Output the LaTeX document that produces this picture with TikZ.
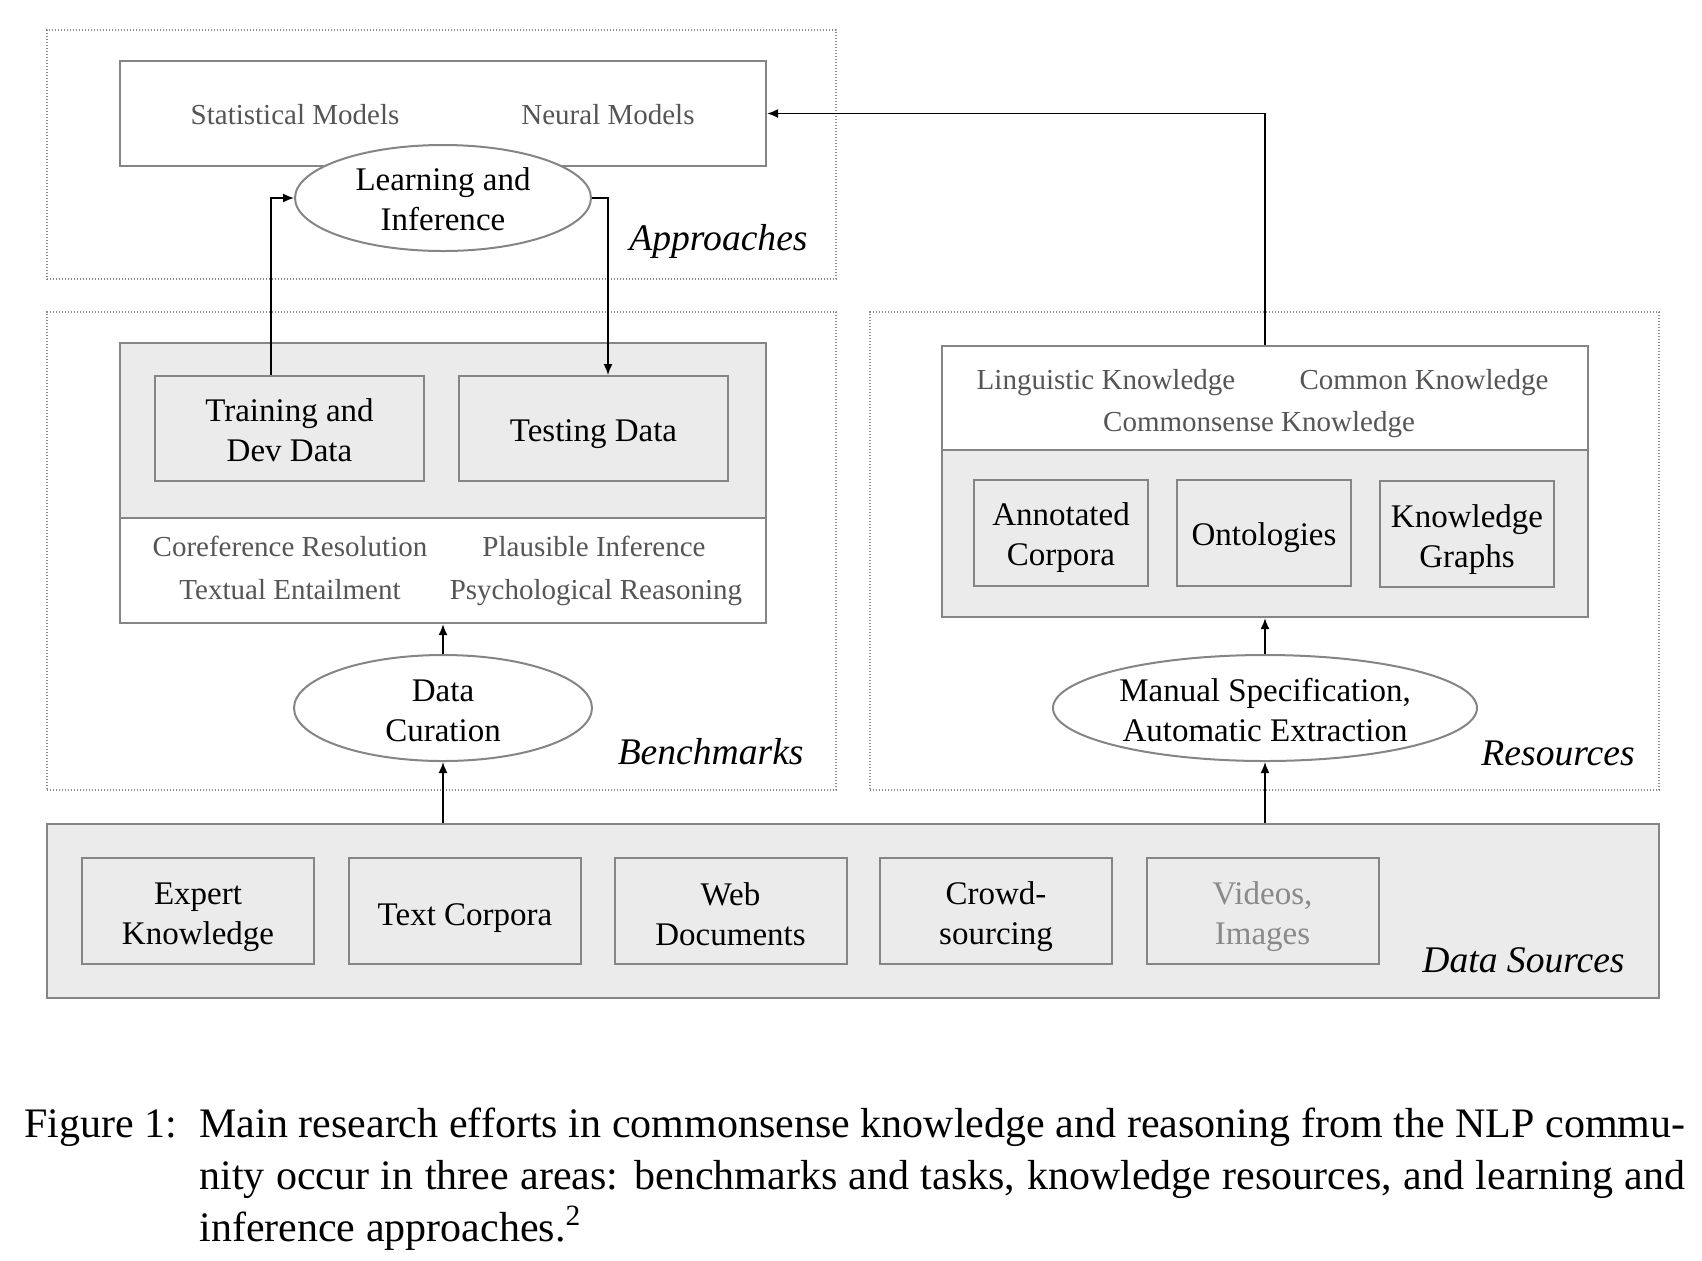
\documentclass[tikz,border=0pt]{standalone}
\usepackage{fontspec}
\setmainfont{Liberation Serif}
\usetikzlibrary{shapes.geometric,arrows.meta}
\definecolor{boxgray}{HTML}{858585}
\definecolor{fillgray}{HTML}{EBEBEB}
\definecolor{txtgray}{HTML}{555555}
\definecolor{ltgray}{HTML}{8A8A8A}
\definecolor{dotgray}{HTML}{8C8C8C}
\tikzset{
  container/.style={draw=dotgray, line width=0.6pt, dash pattern=on 0.6pt off 0.9pt, inner sep=0, rectangle},
  panel/.style={draw=boxgray, line width=1.1pt, inner sep=0, rectangle},
  graypanel/.style={panel, fill=fillgray},
  item/.style={draw=boxgray, line width=1pt, fill=fillgray, inner sep=0, rectangle},
  oval/.style={ellipse, draw=boxgray, line width=1pt, fill=white, inner sep=0},
  itext/.style={inner sep=0, align=center, font=\fontsize{16.5}{20}\selectfont},
  gtext/.style={text=txtgray, inner sep=0, text height=12pt, text depth=1.6pt, font=\fontsize{14.5}{17}\selectfont},
  area/.style={anchor=east, inner sep=0, font=\fontsize{18.8}{22}\selectfont\itshape},
  arr/.style={-{Latex[length=5.5pt,width=4.5pt]}, line width=0.8pt, black},
  captext/.style={anchor=base west, inner sep=0, font=\fontsize{21}{26}\selectfont}
}
\begin{document}
\begin{tikzpicture}[x=0.5pt,y=-0.5pt]
\useasboundingbox (0,0) rectangle (1702,1260);
% containers
\node[container, minimum width=394.5pt, minimum height=124.5pt] (appbox) at (441.5,154.5) {};
\node[container, minimum width=394.5pt, minimum height=239pt] (benchbox) at (441.5,551) {};
\node[container, minimum width=394.5pt, minimum height=239pt] (resbox) at (1264.5,551) {};
% approaches
\node[panel, fill=white, minimum width=323pt, minimum height=52.5pt] (models) at (443,113.5) {};
\node[gtext] (stat) at (295,114) {Statistical Models};
\node[gtext] (neural) at (608,114) {Neural Models};
\node[oval, minimum width=148pt, minimum height=53pt] (learn) at (443,198) {};
\node[itext] (learnt) at ([yshift=-0.8pt]learn.center) {Learning and\\Inference};
\node[area] (applab) at (808,241) {Approaches};
% benchmarks
\node[graypanel, minimum width=323pt, minimum height=87.5pt] (bgray) at (443,430.5) {};
\node[panel, fill=white, minimum width=323pt, minimum height=52.5pt] (tasks) at (443,570.5) {};
\node[item, minimum width=134.5pt, minimum height=52.5pt] (train) at (289.5,428.5) {};
\node[itext] (traint) at ([yshift=-0.8pt]train.center) {Training and\\Dev Data};
\node[item, minimum width=134.5pt, minimum height=52.5pt] (test) at (593.5,428.5) {};
\node[itext] (testt) at ([yshift=-2.6pt]test.center) {Testing Data};
\node[gtext] (coref) at (290,546) {Coreference Resolution};
\node[gtext] (plaus) at (594,546) {Plausible Inference};
\node[gtext] (entail) at (290,589) {Textual Entailment};
\node[gtext] (psych) at (596,589) {Psychological Reasoning};
\node[oval, minimum width=149pt, minimum height=53pt] (dcur) at (443,708) {};
\node[itext] (dcurt) at ([yshift=-1.6pt]dcur.center) {Data\\Curation};
\node[area] (benchlab) at (804,752) {Benchmarks};
% resources
\node[panel, fill=white, minimum width=323pt, minimum height=52pt] (know) at (1265,398) {};
\node[graypanel, minimum width=323pt, minimum height=83.5pt] (rgray) at (1265,533.5) {};
\node[gtext] (ling) at (1106,379) {Linguistic Knowledge};
\node[gtext] (common) at (1424,379) {Common Knowledge};
\node[gtext] (csk) at (1259,421) {Commonsense Knowledge};
\node[item, minimum width=87pt, minimum height=53pt] (annot) at (1061,533) {};
\node[itext] (annott) at ([yshift=-2.4pt]annot.center) {Annotated\\Corpora};
\node[item, minimum width=87pt, minimum height=53pt] (onto) at (1264,533) {};
\node[itext] (ontot) at ([yshift=-2.2pt]onto.center) {Ontologies};
\node[item, minimum width=87pt, minimum height=53pt] (kg) at (1467,534) {};
\node[itext] (kgt) at ([yshift=-2.6pt]kg.center) {Knowledge\\Graphs};
\node[oval, minimum width=212pt, minimum height=53pt] (manual) at (1265,708) {};
\node[itext] (manualt) at ([yshift=-1.1pt]manual.center) {Manual Specification,\\Automatic Extraction};
\node[area] (reslab) at (1635,753) {Resources};
% data sources
\node[graypanel, minimum width=806pt, minimum height=87pt] (dsrc) at (853,911) {};
\node[item, minimum width=116pt, minimum height=53pt] (expert) at (198,911) {};
\node[itext] (expertt) at ([yshift=-2.9pt]expert.center) {Expert\\Knowledge};
\node[item, minimum width=116pt, minimum height=53pt] (corpora) at (465,911) {};
\node[itext] (corporat) at ([yshift=-3.6pt]corpora.center) {Text Corpora};
\node[item, minimum width=116pt, minimum height=53pt] (web) at (730.5,911) {};
\node[itext] (webt) at ([yshift=-1.5pt]web.center) {Web\\Documents};
\node[item, minimum width=116pt, minimum height=53pt] (crowd) at (996,911) {};
\node[itext] (crowdt) at ([yshift=-3pt]crowd.center) {Crowd-\\sourcing};
\node[item, minimum width=116pt, minimum height=53pt] (video) at (1262.5,911) {};
\node[itext, text=ltgray] (videot) at ([yshift=-2.9pt]video.center) {Videos,\\Images};
\node[area] (dslab) at (1625,960) {Data Sources};
% arrows
\draw[arr] (dsrc.north -| dcur.south) -- (dcur.south);
\draw[arr] (dcur.north) -- (tasks.south);
\draw[arr] ([xshift=-9.25pt]train.north) |- (learn.west);
\draw[arr] (learn.east) -| ([xshift=7.25pt]test.north);
\draw[arr] (dsrc.north -| manual.south) -- (manual.south);
\draw[arr] (manual.north) -- (rgray.south);
\draw[arr] (know.north) |- (models.east);
% caption
\node[captext] (figlab) at (24,1137) {Figure 1:};
\node[captext] (cap1) at (199,1137) {\makebox[743pt][s]{Main research efforts in commonsense knowledge and reasoning from the NLP commu-}};
\node[captext] (cap2) at (199,1189) {\makebox[743pt][s]{nity occur in three areas: benchmarks and tasks, knowledge resources, and learning and}};
\node[captext] (cap3) at (199,1241) {inference approaches.\textsuperscript{2}};
\end{tikzpicture}
\end{document}
